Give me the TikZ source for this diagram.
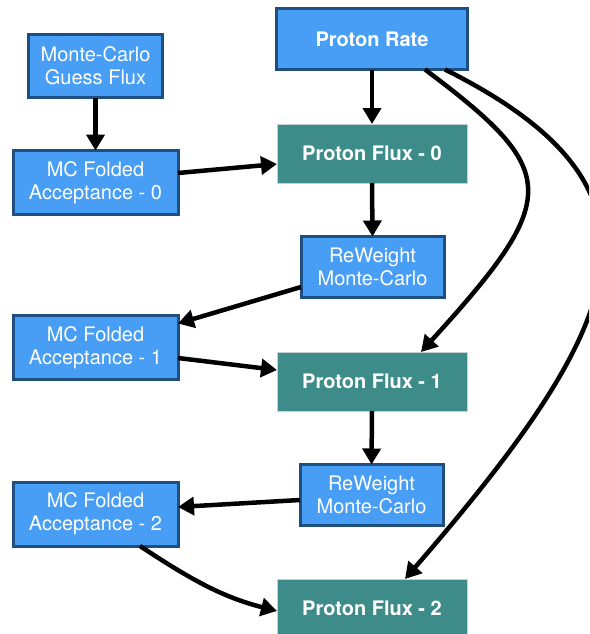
\documentclass[tikz,border=0pt]{standalone}
\usepackage{fontspec}
\setmainfont{TeX Gyre Heros}
\usetikzlibrary{arrows.meta}
\definecolor{boxblue}{RGB}{72,157,245}
\definecolor{boxedge}{RGB}{31,78,128}
\definecolor{fluxteal}{RGB}{62,140,138}
\definecolor{fluxedge}{RGB}{200,210,210}
\tikzset{
  base/.style={align=center, text=white, inner sep=0pt, outer sep=0pt,
    font=\fontsize{20}{23}\selectfont},
  bluebox/.style={base, fill=boxblue, draw=boxedge, line width=3pt},
  fluxbox/.style={base, fill=fluxteal, draw=fluxedge, line width=0.8pt,
    minimum width=190pt, minimum height=59pt, font=\fontsize{20}{23}\selectfont\bfseries},
  mcbox/.style={bluebox, minimum width=165pt, minimum height=64pt},
  rwbox/.style={bluebox, minimum width=143pt, minimum height=61pt},
  flow/.style={line width=4.5pt, -{Triangle[length=16pt,width=18pt]}},
}
\begin{document}
\begin{tikzpicture}[x=1pt, y=-1pt]
\useasboundingbox (0,0) rectangle (589,634);
\clip (0,0) rectangle (589,634);

% input boxes
\node[bluebox, minimum width=134pt, minimum height=63pt] (mcg) at (95.5,66) {Monte-Carlo\\Guess Flux};
\node[bluebox, minimum width=191pt, minimum height=61pt,
      font=\fontsize{20}{23}\selectfont\bfseries] (pr) at (372,39) {Proton Rate};

% folded acceptances
\node[mcbox] (mc0) at (95.5,182.5) {MC Folded\\Acceptance - 0};
\node[mcbox] (mc1) at (95.5,347.5) {MC Folded\\Acceptance - 1};
\node[mcbox] (mc2) at (95.5,514) {MC Folded\\Acceptance - 2};

% unfolded proton fluxes
\node[fluxbox] (pf0) at (372,153.5) {Proton Flux - 0};
\node[fluxbox] (pf1) at (372,381.5) {Proton Flux - 1};
\node[fluxbox] (pf2) at (372,608.5) {Proton Flux - 2};

% reweighting steps
\node[rwbox] (rw1) at (372.5,267) {ReWeight\\Monte-Carlo};
\node[rwbox] (rw2) at (371.5,495) {ReWeight\\Monte-Carlo};

% straight flow
\draw[flow] (mcg.south) -- (mc0.north);
\draw[flow] (pr.south) -- (pf0.north);
\draw[flow] ([yshift=9.5pt]mc0.east) -- ([yshift=-10.5pt]pf0.west);
\draw[flow] (pf0.south) -- (rw1.north);
\draw[flow] ([yshift=-20pt]rw1.west) -- ([yshift=-8pt]mc1.north east);
\draw[flow] ([yshift=-10.5pt]mc1.east) -- ([yshift=11.5pt]pf1.west);
\draw[flow] (pf1.south) -- (rw2.north);
\draw[flow] ([yshift=-5pt]rw2.west) -- ([yshift=7pt]mc2.east);
\draw[flow] ([xshift=44.5pt]mc2.south) .. controls +(50,33) and +(-55,-14) .. ([yshift=-2.5pt]pf2.west);

% rate feeding later iterations
\draw[flow] ([xshift=53pt]pr.south) .. controls +(136,102) and +(141,-155) .. ([xshift=49pt]pf1.north);
\draw[flow] ([xshift=73pt]pr.south) .. controls +(240,120) and +(225,-260) .. ([xshift=33pt]pf2.north);
\end{tikzpicture}
\end{document}
